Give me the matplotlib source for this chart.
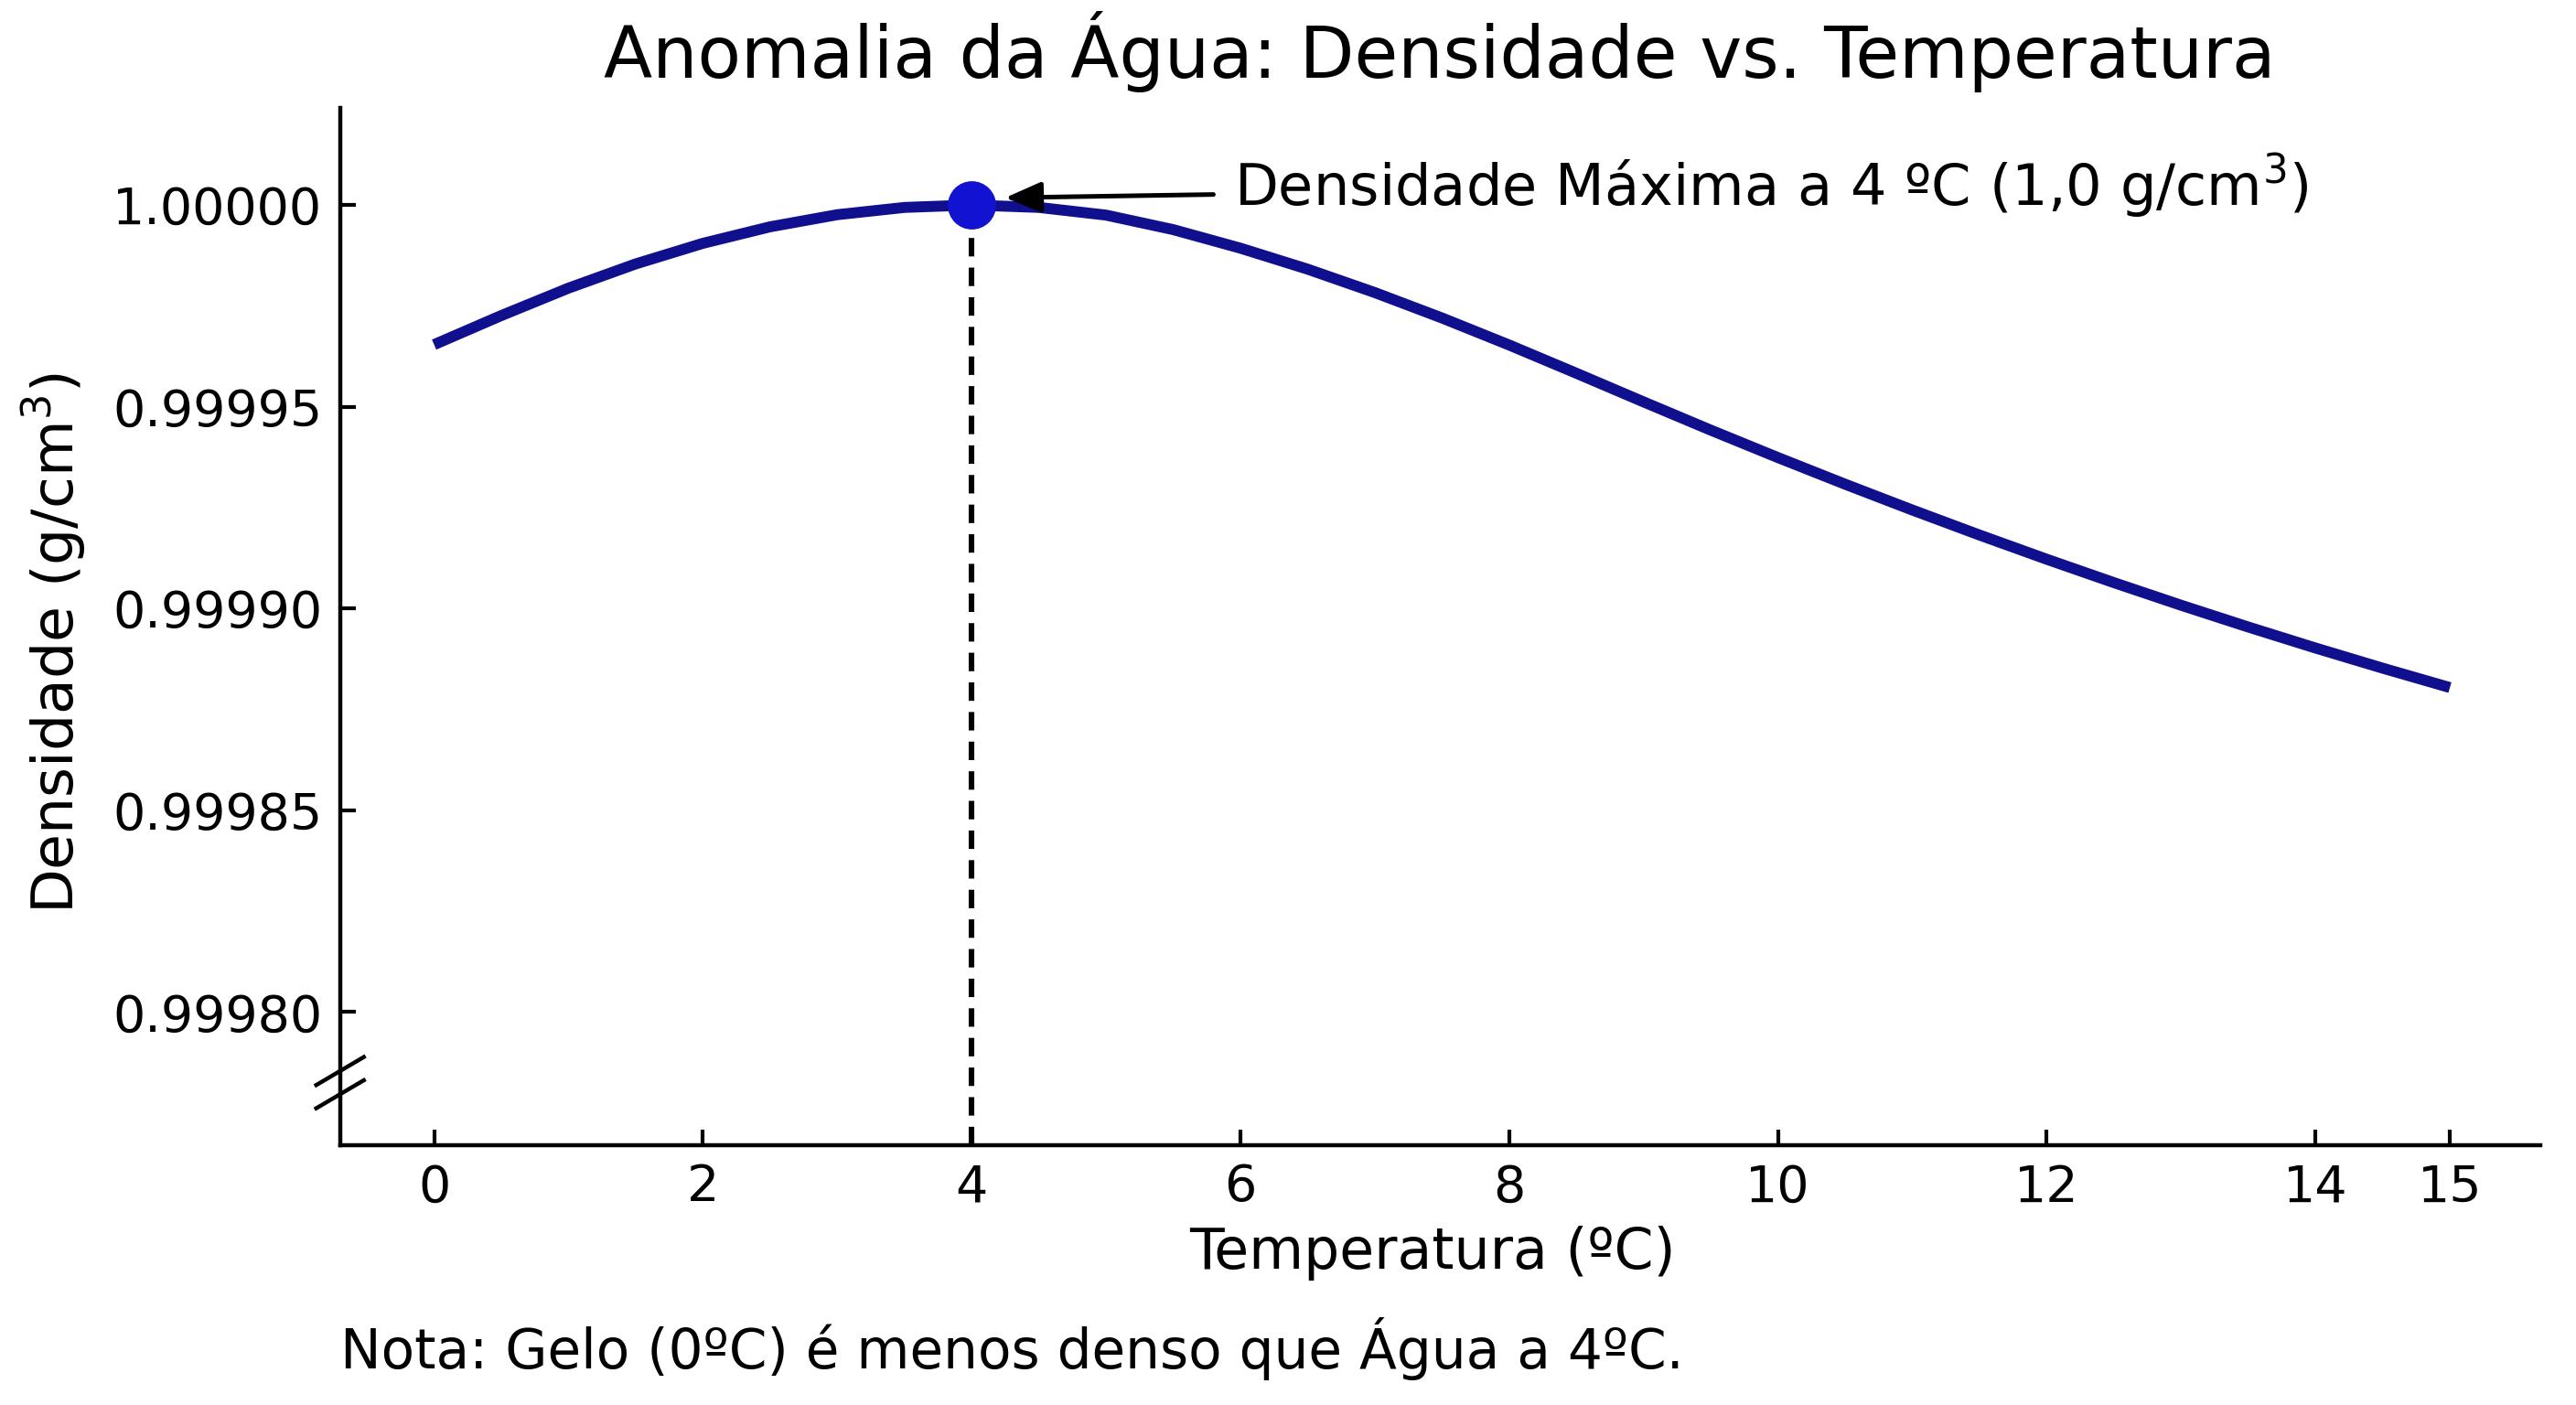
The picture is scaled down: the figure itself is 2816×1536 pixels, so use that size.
import matplotlib
matplotlib.use("Agg")
import matplotlib.pyplot as plt

# Data
temperatura = [0, 0.5, 1, 1.5, 2, 2.5, 3, 3.5, 4, 4.5, 5, 5.5, 6, 6.5, 7, 7.5,
               8, 8.5, 9, 9.5, 10, 10.5, 11, 11.5, 12, 12.5, 13, 13.5, 14, 14.5, 15]
densidade = [0.9999654, 0.9999726, 0.9999794, 0.9999854, 0.9999905, 0.9999946,
             0.9999976, 0.9999994, 1.0000000, 0.9999994, 0.9999975, 0.9999939,
             0.9999893, 0.9999841, 0.9999783, 0.9999720, 0.9999653, 0.9999583,
             0.9999512, 0.9999442, 0.9999374, 0.9999308, 0.9999244, 0.9999182,
             0.9999122, 0.9999064, 0.9999008, 0.9998954, 0.9998902, 0.9998852,
             0.9998804]
x_ticks = [0, 2, 4, 6, 8, 10, 12, 14, 15]
y_ticks = [0.99980, 0.99985, 0.99990, 0.99995, 1.00000]
t_max = 4
d_max = 1.0

plt.rcParams['font.family'] = ['DejaVu Sans']

fig = plt.figure(figsize=(14.08, 7.68), dpi=200)
ax = fig.add_axes([0.132, 0.185, 0.854, 0.738])

ax.plot(temperatura, densidade, color='#10108f', lw=4.3, solid_capstyle='butt',
        solid_joinstyle='round', zorder=3)
ax.plot([t_max], [d_max], 'o', color='#1212d2', markersize=18, zorder=4)

ax.set_xlim(-0.7, 15.67)
ax.set_ylim(0.999767, 1.000024)
ax.vlines(t_max, 0.999767, d_max, colors='black', linestyles=(0, (3.3, 2.0)),
          lw=2.2, zorder=2)

ax.annotate(r'Densidade Máxima a 4 ºC (1,0 g/cm$^3$)',
            xy=(4.25, 1.0000018), xytext=(5.95, 0.9999999),
            fontsize=22.4, ha='left', va='baseline',
            arrowprops=dict(arrowstyle='-|>,head_length=0.4,head_width=0.17',
                            color='black', lw=1.8,
                            mutation_scale=30, shrinkA=6, shrinkB=0))

ax.set_xticks(x_ticks)
ax.set_xticklabels([str(t) for t in x_ticks])
ax.set_yticks(y_ticks)
ax.set_yticklabels([f'{v:.5f}' for v in y_ticks])
ax.tick_params(direction='in', length=6, width=1.5, labelsize=20, pad=7)

for s in ['top', 'right']:
    ax.spines[s].set_visible(False)
for s in ['left', 'bottom']:
    ax.spines[s].set_linewidth(1.6)

ax.set_xlabel('Temperatura (ºC)', fontsize=22.2)
ax.xaxis.set_label_coords(0.4966, -0.0775)
ax.set_ylabel(r'Densidade (g/cm$^3$)', fontsize=22.8)
ax.yaxis.set_label_coords(-0.1143, 0.484)
ax.set_title('Anomalia da Água: Densidade vs. Temperatura', fontsize=28, pad=12)

# axis break marks
for yc in [0.0714, 0.049]:
    ax.plot([-0.0108, 0.0108], [yc - 0.0135, yc + 0.0135], transform=ax.transAxes,
            color='black', lw=1.6, clip_on=False)

fig.text(0.132, 0.04, 'Nota: Gelo (0ºC) é menos denso que Água a 4ºC.',
         fontsize=21.5, ha='left', va='center')

fig.savefig('out.png', dpi=200, facecolor='white')
